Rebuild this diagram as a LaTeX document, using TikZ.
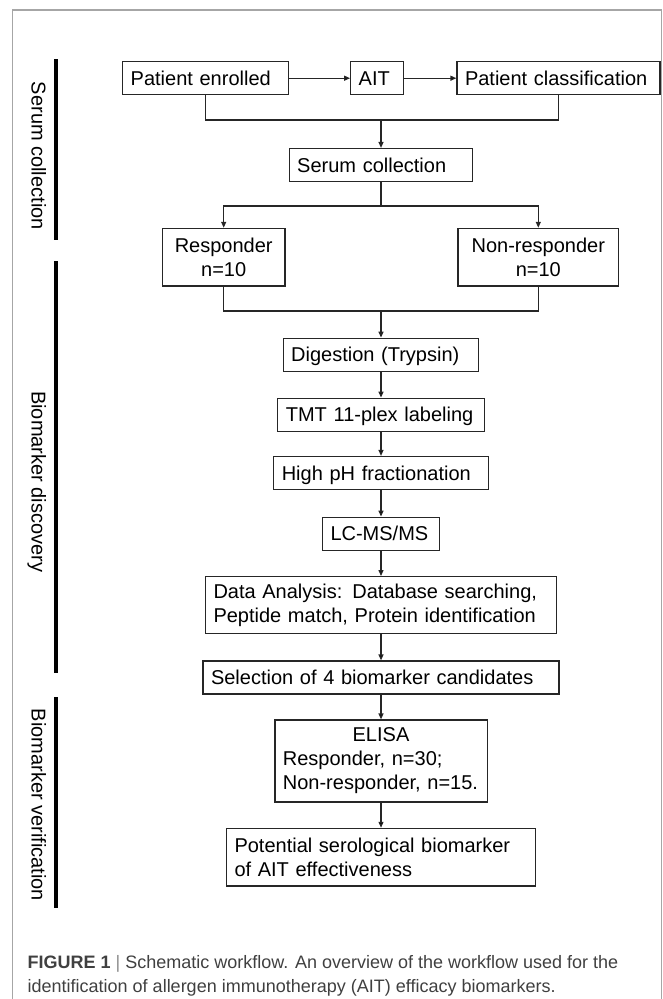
\documentclass[tikz,border=0pt]{standalone}
\usepackage{fontspec}
\setmainfont{Liberation Sans}
\usepackage{tikz}
\usetikzlibrary{arrows.meta}
\newcommand{\boxfont}{\fontsize{20}{24}\selectfont}
\newcommand{\capfont}{\fontsize{18}{24}\selectfont}

\begin{document}
\begin{tikzpicture}[x=1pt,y=-1pt]
	\tikzset{
		stage/.style={draw=black!85, line width=1.2pt, font=\boxfont, align=left, inner xsep=8pt, inner ysep=0pt, minimum height=33pt, text height=14.5pt, text depth=0pt},
		twoline/.style={draw=black!85, line width=1.2pt, font=\boxfont, inner xsep=8pt, inner ysep=0pt},
		flow/.style={draw=black!85, line width=1.2pt, -{Triangle[length=6pt,width=5pt]}},
		link/.style={draw=black!85, line width=1.2pt},
		band/.style={line width=4pt},
		bandlabel/.style={font=\boxfont, rotate=-90, anchor=base, inner sep=0pt}
	}
	\useasboundingbox (0,0) rectangle (663,999);
	\draw[black!35, line width=1.5pt] (12.7,999) -- (12.7,10) -- (661.7,10) -- (661.7,999);
	% side bands
	\draw[band] (56,59) -- (56,240);
	\draw[band] (56,261) -- (56,673);
	\draw[band] (56,697) -- (56,908);
	\node[bandlabel] (lab1) at (31.7,155.8) {Serum collection};
	\node[bandlabel] (lab2) at (31.7,481.7) {Biomarker discovery};
	\node[bandlabel] (lab3) at (31.7,805) {Biomarker verification};
	% serum collection
	\node[stage, text width=150pt] (pe) at (205.7,78.2) {Patient enrolled};
	\node[stage, text width=36.6pt] (ait) at (377,78.2) {AIT};
	\node[stage, text width=187pt] (pc) at (558.5,78.2) {Patient classification};
	\node[stage, text width=167.6pt] (sc) at (381,165) {Serum collection};
	\node[twoline, align=center, text width=106.7pt, minimum height=57.7pt] (resp) at (223.7,257.2) {Responder\\n=10};
	\node[twoline, align=center, text width=144.6pt, minimum height=57.7pt] (nr) at (538.3,257.2) {Non-responder\\n=10};
	% biomarker discovery
	\node[stage, text width=179.7pt] (dig) at (381,354.7) {Digestion (Trypsin)};
	\node[stage, text width=190.3pt] (tmt) at (381,414.7) {TMT 11-plex labeling};
	\node[stage, text width=198.4pt] (hph) at (381,473) {High pH fractionation};
	\node[stage, text width=101pt] (lc) at (381,533.7) {LC-MS/MS};
	\node[twoline, align=left, text width=335pt, minimum height=56.7pt] (da) at (381,605) {Data Analysis: Database searching,\\Peptide match, Protein identification};
	\node[stage, text width=340pt] (sel) at (381,677.5) {Selection of 4 biomarker candidates};
	% biomarker verification
	\node[twoline, align=left, text width=196.2pt, minimum height=82pt] (elisa) at (381,761) {\makebox[196.2pt]{ELISA}\\Responder, n=30;\\Non-responder, n=15.};
	\node[twoline, align=left, text width=293pt, minimum height=57.7pt] (pot) at (381,857.2) {Potential serological biomarker\\of AIT effectiveness};
	% connectors
	\coordinate (j1) at (381,120);
	\coordinate (j2) at (381,206);
	\coordinate (j3) at (381,311);
	\path[flow]
		(pe) edge (ait)
		(ait) edge (pc);
	\draw[link] (pe.south) |- (j1) -| (pc.south);
	\draw[flow] (j1) -- (sc.north);
	\draw[link] (sc.south) -- (j2);
	\draw[flow] (j2) -| (resp.north);
	\draw[flow] (j2) -| (nr.north);
	\draw[link] (resp.south) |- (j3) -| (nr.south);
	\draw[flow] (j3) -- (dig.north);
	\path[flow]
		(dig) edge (tmt)
		(tmt) edge (hph)
		(hph) edge (lc)
		(lc) edge (da)
		(da) edge (sel)
		(sel) edge (elisa)
		(elisa) edge (pot);
	% caption
	\node[anchor=north west, inner sep=0pt, align=left, font=\capfont, text=black!75] (cap) at (27.5,955.5) {\textbf{FIGURE 1} {\color{black!45}|} Schematic workflow. An overview of the workflow used for the\\identification of allergen immunotherapy (AIT) efficacy biomarkers.};
\end{tikzpicture}
\end{document}
